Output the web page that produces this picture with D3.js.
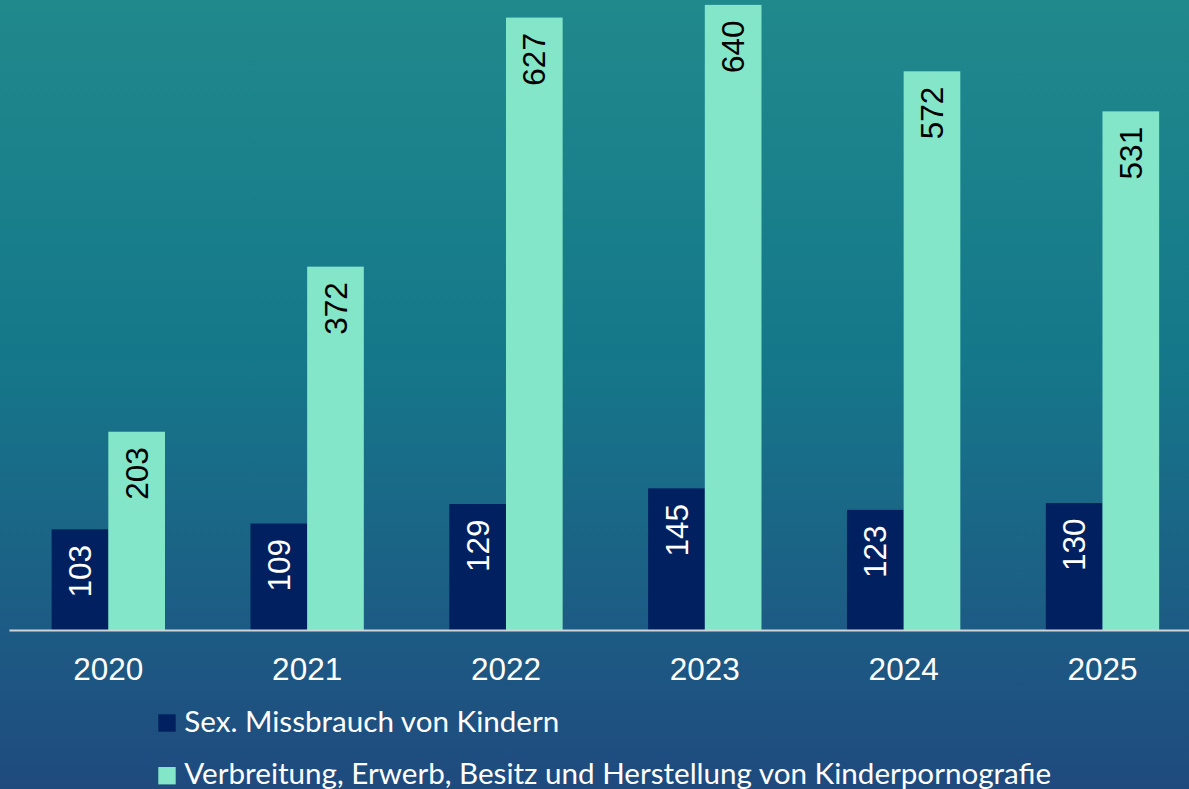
<!DOCTYPE html>
<html>
<head>
<meta charset="utf-8">
<style>
html, body { margin: 0; padding: 0; overflow: hidden; }
svg { display: block; }
</style>
<script src="https://d3js.org/d3.v7.min.js"></script>
</head>
<body>
<script>
// data
var years = ["2020", "2021", "2022", "2023", "2024", "2025"];
var missbrauch = [103, 109, 129, 145, 123, 130];
var kipo = [203, 372, 627, 640, 572, 531];
var seriesNames = ["Sex. Missbrauch von Kindern",
  "Verbreitung, Erwerb, Besitz und Herstellung von Kinderpornografie"];
var seriesColors = ["#00205f", "#84e6c9"];
var labelColors = ["#ffffff", "#000000"];

var width = 1189, height = 789;
var baseY = 630;

var svg = d3.select("body").append("svg")
    .attr("width", width)
    .attr("height", height);

// background gradient
var grad = svg.append("defs").append("linearGradient")
    .attr("id", "bg")
    .attr("x1", 0).attr("y1", 0).attr("x2", 0).attr("y2", 1);
grad.append("stop").attr("offset", "0%").attr("stop-color", "#20898c");
grad.append("stop").attr("offset", "45%").attr("stop-color", "#15788a");
grad.append("stop").attr("offset", "75%").attr("stop-color", "#1c5f85");
grad.append("stop").attr("offset", "100%").attr("stop-color", "#1f4a7e");
svg.append("rect").attr("width", width).attr("height", height).attr("fill", "url(#bg)");

var x = d3.scaleBand()
    .domain(years)
    .range([8.9, 1201.9])
    .paddingInner(0.43)
    .paddingOuter(0.215);

var xs = d3.scaleBand()
    .domain([0, 1])
    .range([0, x.bandwidth()]);

var y = d3.scaleLinear()
    .domain([0, 645])
    .range([baseY, 0]);

var rows = years.map(function(yr, i) {
  return { year: yr, vals: [missbrauch[i], kipo[i]] };
});

var groups = svg.selectAll("g.year")
    .data(rows)
    .enter().append("g")
    .attr("class", "year")
    .attr("transform", d => "translate(" + x(d.year) + ",0)");

var cells = groups.selectAll("g.bar")
    .data(d => d.vals.map((v, k) => ({ k: k, v: v })))
    .enter().append("g")
    .attr("class", "bar");

cells.append("rect")
    .attr("x", d => xs(d.k))
    .attr("y", d => y(d.v))
    .attr("width", xs.bandwidth())
    .attr("height", d => baseY - y(d.v))
    .attr("fill", d => seriesColors[d.k]);

cells.append("text")
    .attr("transform", d => "translate(" + (xs(d.k) + xs.bandwidth() / 2) + "," + (y(d.v) + 15.5) + ") rotate(-90)")
    .attr("text-anchor", "end")
    .attr("dy", "0.35em")
    .attr("fill", d => labelColors[d.k])
    .style("font-family", "'Liberation Sans', Arial, sans-serif")
    .style("font-size", "31.5px")
    .text(d => d.v);

// x axis
var axis = svg.append("g")
    .attr("transform", "translate(0," + baseY + ")")
    .call(d3.axisBottom(x).tickSize(0).tickPadding(0));
axis.select(".domain")
    .attr("stroke", "#cfd3d6")
    .attr("stroke-width", 2);
axis.selectAll(".tick text")
    .attr("y", 49.5)
    .attr("dy", 0)
    .attr("fill", "#ffffff")
    .style("font-family", "'Liberation Sans', Arial, sans-serif")
    .style("font-size", "31.5px");

// legend
var legend = svg.selectAll("g.legend")
    .data(seriesNames)
    .enter().append("g")
    .attr("class", "legend")
    .attr("transform", (d, i) => "translate(158.3," + (714.3 + i * 52.7) + ")");

legend.append("rect")
    .attr("width", 17.4)
    .attr("height", 17.4)
    .attr("fill", (d, i) => seriesColors[i]);

legend.append("text")
    .attr("x", 26)
    .attr("y", 17.4)
    .attr("fill", "#ffffff")
    .style("font-family", "Lato, 'Open Sans', sans-serif")
    .style("font-size", "29.6px")
    .text(d => d);
</script>
</body>
</html>
